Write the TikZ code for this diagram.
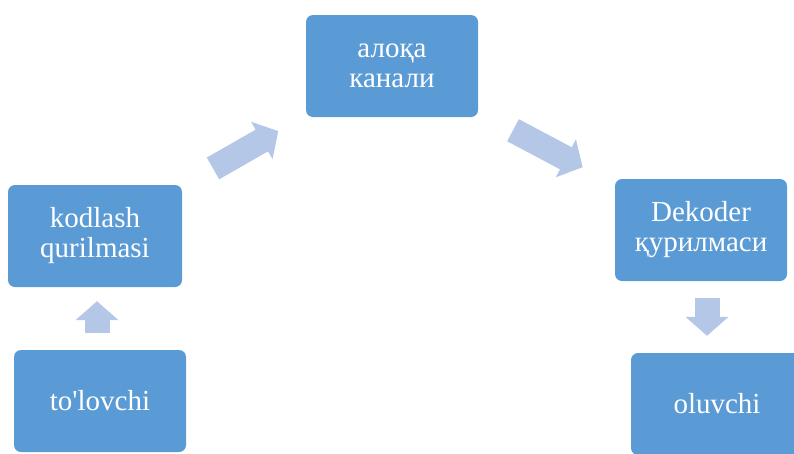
\documentclass[tikz,border=0pt]{standalone}
\usepackage{fontspec}
\setmainfont{Liberation Serif}
\usepackage{xcolor}
\usetikzlibrary{arrows.meta}
\definecolor{boxblue}{HTML}{5B9BD5}
\definecolor{arrowblue}{HTML}{B4C7E7}

\tikzset{
  stage/.style={fill=boxblue,rounded corners=7pt,text=white,align=center,
    minimum width=172pt,minimum height=102pt,inner sep=0pt,
    font=\fontsize{29}{30}\selectfont},
  flow/.style={draw=arrowblue,line width=25pt,
    -{Triangle[width=42pt,length=19pt,fill=arrowblue]}}
}

\begin{document}
\begin{tikzpicture}[x=1pt,y=-1pt]
    \clip (0,0) rectangle (794,453);
    \node[stage,minimum width=174pt] (kod) at (95,236) {kodlash\\qurilmasi};
    \node[stage] (tol) at (100,401) {to\textquotesingle lovchi};
    \node[stage] (aloqa) at (392,66) {алоқа\\канали};
    \node[stage] (dek) at (701,230) {Dekoder\\қурилмаси};
    \node[stage] (olu) at (717,404) {oluvchi};
    % block arrows
    \draw[flow,shorten <=17pt,shorten >=14pt]
      ([xshift=-3pt]tol.north) to ([xshift=-3pt]tol.north |- kod.south);
    \draw[flow,shorten <=136pt,shorten >=131pt] (kod.center) to (aloqa.center);
    \draw[flow,shorten <=137pt,shorten >=134pt] (aloqa.center) to (dek.center);
    \draw[flow,shorten <=17pt,shorten >=17pt]
      ([xshift=6pt]dek.south) to ([xshift=6pt]dek.south |- olu.north);
\end{tikzpicture}
\end{document}
